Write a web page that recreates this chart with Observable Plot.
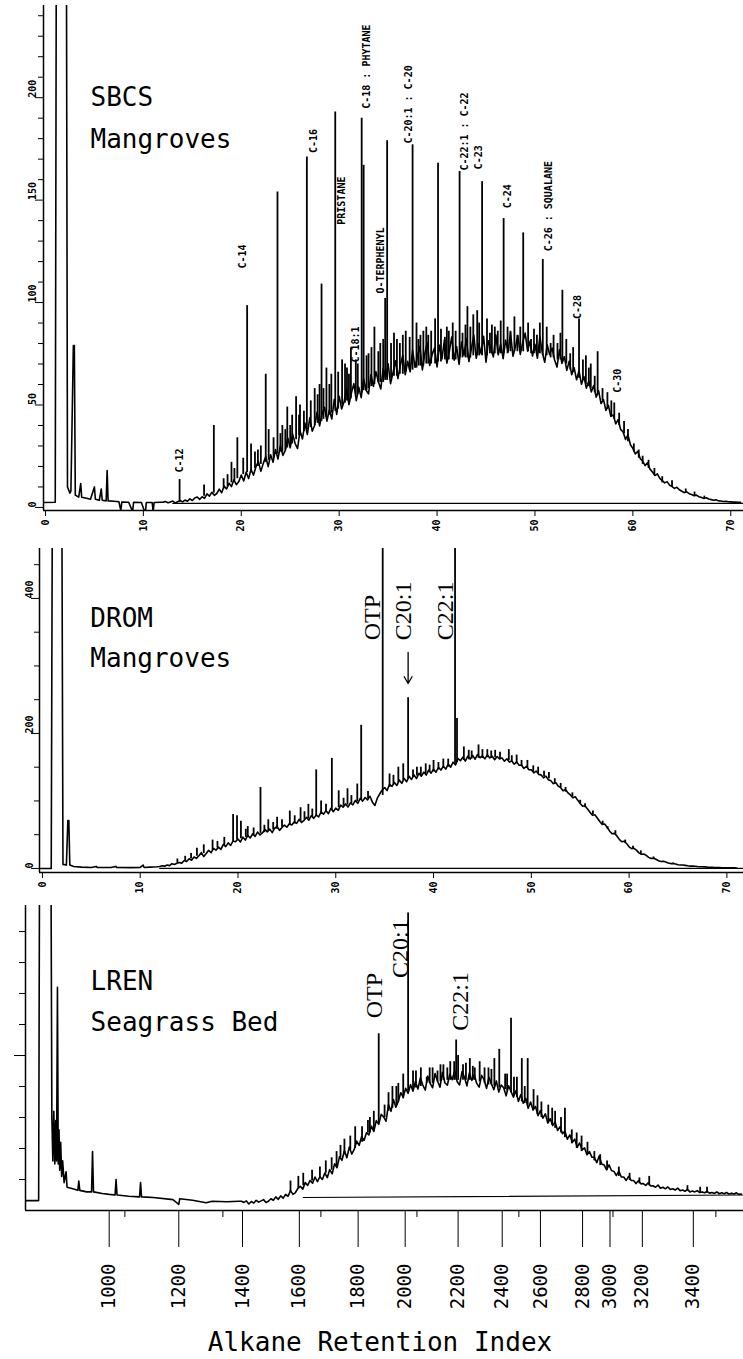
<!DOCTYPE html>
<html><head><meta charset="utf-8">
<script src="https://cdn.jsdelivr.net/npm/d3@7"></script>
<script src="https://cdn.jsdelivr.net/npm/@observablehq/plot@0.6"></script>
<style>
html,body{margin:0;padding:0;background:#fff;}
body{width:743px;}
#chart svg{display:block;}
.title{font-family:"DejaVu Sans Mono",monospace;font-size:26px;width:743px;height:39px;line-height:30px;padding-top:7px;text-align:center;padding-left:17px;box-sizing:border-box;color:#000;}
</style></head>
<body><div id="chart"></div><div class="title">Alkane Retention Index</div>
<script>
// ---------------- Panel 1: SBCS Mangroves (minutes) ----------------
const minuteTicks = [0,10,20,30,40,50,60,70];
const sbcsYMajor = [0,50,100,150,200];
const sbcsYMinor = [10,20,30,40,60,70,80,90,110,120,130,140,160,170,180,190,210,220,230,240];
const sbcsName = ["SBCS","Mangroves"];
const sbcsEarly = [[-0.2,2.4],[1.0,2.5],[1.1,250],[2.15,250],[2.25,10],[2.5,7],[2.6,8],[2.85,79],[2.95,79],[3.05,6],[3.4,5],[3.6,11.6],[3.7,5],[4.2,4.5],[4.6,4],[5.0,10],[5.1,4],[5.5,3.5],[5.7,9],[5.8,3.5],[6.2,3.2],[6.3,18],[6.4,3.2],[7.0,3],[7.5,2.8],[7.7,-1.5],[7.8,2.6],[8.5,2.5],[8.9,-2],[9.0,2.5],[9.8,2.4],[10.2,-3],[10.3,2.4],[10.9,2.4],[11.0,-2],[11.1,2.4],[11.75,2.5]];
const sbcsHumpStart = 12, sbcsHumpStep = 0.25;
const sbcsHump = [
2.5,2.9,2.3,2.6, 3.1,2.2,2.8,3.4, 2.7,3.6,3.0,4.2, 3.4,4.6,5.1,3.9, 5.2,4.4,6.6,5.5,
7.4,5.9,6.8,8.9, 7.2,10.5,9.0,11.8, 10.2,13.5,11.1,12.6, 15.8,12.9,17.2,14.1, 18.5,15.8,19.9,22.4,
17.6,21.5,24.8,19.9, 25.7,22.1,28.3,23.6, 30.2,25.4,27.8,33.9, 29.1,35.8,31.2,28.7, 37.5,33.4,41.2,35.6,
43.8,37.2,40.1,46.5, 39.8,45.5,48.9,42.1, 47.6,43.2,52.8,45.4, 54.3,48.1,51.6,57.9, 50.2,55.8,60.4,52.1,
58.7,53.6,62.9,57.2, 55.4,64.8,59.1,66.3, 61.5,57.8,67.9,63.2, 70.1,60.4,65.8,71.6, 62.9,69.5,74.2,64.8,
71.3,66.2,76.8,68.4, 73.9,78.6,67.1,75.2, 80.4,69.3,74.7,77.9, 68.6,79.2,72.5,81.8, 70.4,76.1,83.2,71.9,
78.5,69.8,80.7,74.3, 82.6,71.2,77.4,84.1, 72.8,79.9,75.1,83.5, 70.9,81.3,77.6,73.4, 84.2,74.5,79.8,72.6,
81.7,75.9,85.3,73.8, 78.4,83.9,74.7,80.6, 85.1,76.3,81.2,73.9, 79.6,72.8,83.4,75.5, 70.9,79.4,74.6,77.8,
72.1,68.5,76.9,70.3, 73.6,66.9,71.4,64.8, 68.2,62.3,66.7,60.1, 63.9,58.2,61.7,56.4, 59.5,53.8,56.9,50.7,
52.6,47.3,49.8,44.5, 45.2,40.8,42.9,38.1, 36.9,33.2,35.4,30.6, 28.8,26.1,27.4,23.9, 22.6,20.4,21.8,18.7,
17.3,15.6,16.4,14.2, 13.1,12.0,12.6,10.9, 10.2,9.3,9.8,8.6, 7.9,7.2,7.6,6.7, 6.3,5.7,6.0,5.2,
4.9,4.4,4.7,4.1, 3.8,3.5,3.7,3.2, 3.1,2.9,3.0,2.8, 2.7,2.6,2.6,2.5, 2.5];
// [time, base, top]
const sbcsPeaks = [[13.7,2.5,13.6],[16.2,5.5,11],[17.2,7,40],[18.2,9,14],[18.6,10,16],[19.0,12,22],[19.3,13,19],[19.6,14,34],[20.2,16,24],[20.6,17,98.5],[21.0,18,31],[21.4,19,27],[21.7,20,28],[22.0,21,30],[22.5,22,65],[22.8,23,38],[23.3,24,34],[23.7,26,154],[24.0,27,36],[24.2,27,40],[24.5,28,38],[24.7,29,49],[25.0,30,40],[25.2,31,45],[25.6,33,54],[25.9,35,45],[26.0,35,50],[26.4,37,47],[26.7,38,171],[27.1,39,52],[27.5,40,58],[27.8,41,55],[28.0,42,60],[28.2,42,109],[28.4,43,58],[28.7,44,68],[29.0,45,60],[29.2,46,65],[29.6,47,193],[29.9,48,66],[30.3,50,72],[30.6,51,70],[30.8,52,68],[31.0,52,65],[31.2,53,78],[31.7,55,72],[31.9,55,70],[32.3,56,190],[32.5,57,167],[32.8,57,74],[33.0,58,75],[33.3,59,78],[33.6,60,88],[34.0,61,76],[34.2,61,80],[34.5,61,82],[34.7,62,102],[34.9,62,179],[35.3,63,80],[35.6,64,85],[35.9,64,82],[36.2,65,80],[36.5,65,84],[36.8,66,86],[37.2,67,83],[37.5,67,177],[37.9,68,90],[38.1,69,82],[38.3,69,84],[38.6,69,86],[38.9,70,88],[39.1,70,84],[39.4,70,86],[39.8,70,92],[40.1,71,168],[40.4,71,87],[40.8,72,83],[41.0,72,88],[41.2,72,86],[41.6,72,90],[41.9,72,86],[42.3,73,164],[42.6,73,85],[42.9,73,89],[43.1,73,98],[43.4,73,88],[43.7,74,94],[44.1,74,96],[44.3,74,90],[44.6,74,159],[45.1,74,92],[45.4,75,85],[45.6,75,89],[45.9,75,88],[46.2,75,86],[46.5,75,91],[46.8,75,141],[47.2,75,88],[47.5,76,86],[47.9,76,93],[48.2,76,84],[48.5,76,88],[48.8,76,134],[49.3,76,90],[49.6,75,82],[49.9,75,87],[50.2,75,84],[50.5,75,90],[50.8,74,121],[51.2,74,88],[51.6,73,80],[51.9,73,84],[52.3,72,80],[52.6,72,85],[52.8,71,106],[53.2,70,82],[53.6,67,75],[53.9,66,78],[54.5,63,92],[54.9,62,72],[55.2,60,74],[55.5,59,68],[55.7,58,70],[56.1,56,64],[56.4,55,76],[56.9,52,58],[57.4,48,56],[57.8,44,52],[58.1,43,51],[58.6,40,46],[59.1,36,42],[59.5,32,38],[60.1,27,31],[60.6,24,28],[61.0,21,25],[61.6,19,23],[62.2,16,19],[63.0,12,15],[64.0,10,13],[65.4,7,9],[66.3,5.5,7.5],[67.3,4.3,5.5]];
const sbcsBaseline = [[13,2],[71.3,2]];
const sbcsLabels = ["C-12","C-14","C-16","PRISTANE","C-18 : PHYTANE","C-18:1","O-TERPHENYL","C-20:1 : C-20","C-22:1 : C-22","C-23","C-24","C-26 : SQUALANE","C-28","C-30"];
const sbcsLabelT = [13.7,20.2,27.4,30.3,32.8,31.7,34.3,37.1,42.8,44.3,47.2,51.4,54.4,58.5];
const sbcsLabelY = [17,116.6,173,138,194.6,70.7,104.4,177.6,164.4,165,146,125,92,56];

// ---------------- Panel 2: DROM Mangroves (minutes) ----------------
const dromYMajor = [0,200,400];
const dromYMinor = [50,100,150,250,300,350,450];
const dromName = ["DROM","Mangroves"];
const dromEarly = [[-0.3,0],[0.9,0],[1.0,480],[2.0,480],[2.1,6],[2.45,5],[2.6,71],[2.7,71],[2.8,5],[3.2,3],[4,2],[5,1.5],[5.5,3],[5.6,1.5],[7,1.5],[7.5,3],[7.6,1.5],[9,1.2],[10,1.5],[10.3,5],[10.4,1.5],[11,2],[11.75,2.5]];
const dromHumpStart = 12, dromHumpStep = 0.25;
const dromHump = [
2.8,3.9,3.4,5.1, 4.2,7.1,6.0,7.6, 8.8,7.9,11.7,10.2, 14.3,12.1,16.9,15.0, 18.8,23.4,17.6,22.0,
26.9,23.3,29.8,27.1, 31.5,28.2,35.7,32.4, 37.9,34.1,40.8,39.5, 43.6,39.2,46.3,42.0, 48.9,45.1,51.2,47.4,
53.9,49.7,52.6,57.8, 54.2,58.3,53.1,59.6, 62.1,56.4,60.8,64.3, 61.0,66.2,64.5,68.9, 66.7,72.8,68.1,71.2,
75.8,71.6,78.4,74.2, 79.1,76.3,83.7,80.5, 85.4,81.2,88.9,84.0, 89.3,86.1,93.8,90.7, 95.6,91.0,97.2,94.3,
100.8,96.5,103.9,99.7, 105.1,101.6,106.9,98.2, 93.4,104.1,110.6,116.2, 119.8,115.4,124.7,121.6, 127.3,122.9,131.1,126.0,
133.2,128.4,136.5,131.9, 138.7,133.1,140.9,136.6, 142.8,138.3,145.6,141.2, 147.1,142.5,149.9,145.8, 151.3,147.2,154.6,150.1,
157.4,153.3,162.8,159.6, 164.9,159.0,166.3,162.1, 167.5,161.8,168.9,164.0, 166.7,162.4,168.3,163.7, 166.1,161.0,165.8,162.2,
163.8,158.9,162.5,157.6, 159.2,154.4,157.8,152.9, 152.8,148.1,151.4,146.3, 146.1,141.7,144.2,139.4, 138.6,134.2,136.7,131.3,
129.8,125.6,127.3,121.9, 119.7,115.1,117.2,111.8, 108.9,104.6,106.1,100.9, 96.3,92.1,93.0,87.9, 83.4,78.8,79.6,74.8,
69.6,65.3,65.9,61.1, 55.6,51.5,52.0,48.2, 43.1,39.6,40.2,36.8, 32.0,29.4,29.9,27.1, 23.1,21.0,21.4,19.3,
16.4,14.9,15.2,13.6, 11.5,10.4,10.7,9.5, 8.0,7.2,7.4,6.6, 5.6,5.0,5.2,4.6, 3.9,3.5,3.6,3.3,
2.9,2.6,2.6,2.4, 1.9,1.7,1.7,1.5, 1.3,1.2,1.1,1.0, 0.9,0.9,0.8,0.8, 0.7];
const dromPeaks = [[13.8,8,14],[14.6,11,18],[15.2,14,22],[15.8,18,30],[16.5,22,35],[17.4,27,42],[17.9,30,40],[18.6,34,46],[19.5,40,80],[19.9,42,78],[20.3,44,70],[20.8,46,58],[21.0,47,62],[21.6,49,60],[22.3,52,120],[22.7,53,64],[23.1,55,72],[23.6,57,68],[24.0,58,76],[24.5,61,72],[25.3,64,85],[25.8,66,78],[26.4,69,90],[26.8,72,84],[27.2,74,95],[27.6,76,88],[28.0,78,146],[28.5,80,100],[29.0,83,95],[29.6,86,163],[30.3,90,115],[30.8,92,104],[31.2,94,118],[31.6,96,108],[32.2,99,125],[32.6,101,212],[33.3,103,114],[34.8,108,480],[35.5,120,140],[35.9,124,138],[36.4,127,150],[36.9,130,155],[37.4,132,253],[37.9,135,146],[38.3,137,150],[38.7,138,150],[39.2,140,155],[39.6,142,153],[40.0,143,160],[40.5,146,157],[41.0,148,162],[41.5,150,162],[42.2,155,480],[42.4,157,222],[43.1,160,180],[43.6,161,175],[43.9,162,174],[44.6,163,183],[45.0,163,176],[45.5,164,176],[45.9,163,174],[46.3,164,175],[46.8,162,172],[47.7,160,176],[48.0,157,167],[48.5,155,168],[49.0,151,160],[49.6,148,160],[50.2,143,152],[50.7,140,150],[51.3,136,144],[51.8,133,142],[52.4,125,133],[53.0,119,126],[53.5,113,120],[54.2,106,112],[55.0,96,101],[55.5,90,96],[56.3,80,85],[57.3,65,70],[57.8,58,62],[58.6,50,56],[59.6,38,42],[60.4,29,33],[61.2,21,26],[62.5,14,17],[64.5,6.5,8]];
const dromBaseline = [[12,0],[71.7,0]];
const dromLabels = ["OTP","C20:1","C22:1"];
const dromLabelT = [33.7,36.9,41.2];
const dromLabelY = [338,338,338];
const dromArrow = [{t:37.4, from:320, to:274}];

// ---------------- Panel 3: LREN Seagrass Bed (retention index axis) ----------------
const riLabels = ["1000","1200","1400","1600","1800","2000","2200","2400","2600","2800","3000","3200","3400"];
const riTime = [6.5,13.6,20.1,25.9,31.9,36.7,42.1,46.6,50.5,54.8,57.6,60.9,66.1];
const lrenMinorX = [8.1,18.1,28.1,37.9,48.3,57.9,68.4];
const lrenYTicks = [1,2,3,4,6,7,8,9];
const lrenYLong = [5];
const lrenName = ["LREN","Seagrass Bed"];
const lrenEarly = [[-2.04,0.32],[-0.7,0.32],[-0.6,12],[0.55,12],[0.65,3.0],[0.75,1.6],[0.85,3.2],[0.95,1.5],[1.05,2.9],[1.13,1.6],[1.22,7.2],[1.3,1.5],[1.38,2.6],[1.45,1.3],[1.55,2.2],[1.65,1.1],[1.75,1.6],[1.9,0.9],[2.1,1.25],[2.2,0.75],[2.6,0.72],[3.3,0.65],[3.4,0.95],[3.5,0.65],[4.2,0.6],[4.7,0.6],[4.8,1.9],[4.9,0.6],[5.8,0.55],[6.5,0.52],[7.1,0.5],[7.2,1.0],[7.3,0.5],[8.5,0.46],[9.6,0.44],[9.7,0.9],[9.8,0.44],[11,0.42],[13,0.35],[13.6,0.2],[13.7,0.38],[15,0.33],[16.4,0.25],[17,0.3],[18.5,0.28],[19.75,0.3]];
const lrenHumpStart = 20, lrenHumpStep = 0.25;
const lrenHump = [
0.30,0.26,0.31,0.21, 0.29,0.24,0.33,0.27, 0.31,0.35,0.26,0.30, 0.38,0.33,0.44,0.36, 0.47,0.40,0.52,0.46,
0.64,0.52,0.58,0.71, 0.78,0.69,0.90,0.81, 0.97,0.88,1.08,0.93, 1.09,1.00,1.21,1.06, 1.32,1.18,1.51,1.38,
1.74,1.62,1.93,1.70, 2.05,1.82,1.97,2.24, 2.10,2.38,2.26,2.51, 2.44,2.72,2.55,2.90, 2.78,3.10,3.02,2.88,
3.42,3.20,3.58,3.33, 3.52,3.80,3.66,3.94, 3.78,4.06,3.85,4.17, 3.92,4.28,4.05,3.88, 4.34,4.10,3.96,4.42,
4.18,3.98,4.46,4.12, 4.04,4.40,4.22,4.52, 4.16,4.05,4.48,4.30, 4.02,4.44,4.20,4.38, 4.10,3.98,4.36,4.22,
3.94,4.30,4.08,3.90, 4.18,3.82,4.05,3.96, 3.70,4.02,3.84,3.66, 3.86,3.52,3.74,3.46, 3.62,3.30,3.50,3.24,
3.36,3.06,3.22,2.98, 3.12,2.82,2.96,2.74, 2.86,2.58,2.70,2.48, 2.56,2.30,2.44,2.20, 2.30,2.04,2.18,1.96,
2.02,1.80,1.90,1.72, 1.72,1.54,1.76,1.50, 1.47,1.31,1.47,1.29, 1.26,1.13,1.27,1.08, 1.08,0.97,1.10,0.97,
0.97,0.87,0.96,0.86, 0.87,0.81,0.89,0.79, 0.80,0.75,0.82,0.72, 0.75,0.70,0.76,0.68, 0.70,0.66,0.72,0.64,
0.66,0.62,0.68,0.60, 0.63,0.60,0.64,0.58, 0.60,0.57,0.62,0.56, 0.58,0.55,0.60,0.54, 0.57,0.54,0.58,0.53,
0.56,0.53,0.57,0.52, 0.53];
const lrenPeaks = [[25.0,0.6,0.95],[25.8,0.7,1.1],[26.3,0.8,1.2],[27.2,0.95,1.3],[28.0,1.05,1.4],[28.6,1.2,1.6],[29.2,1.3,1.7],[29.7,1.4,1.9],[30.1,1.7,2.1],[30.5,1.8,2.3],[31.1,1.95,2.4],[31.6,2.0,2.7],[32.3,2.2,2.7],[32.9,2.5,2.9],[33.1,2.5,3.0],[33.5,2.6,3.2],[34.0,2.8,5.7],[34.6,3.0,3.4],[35.0,3.2,3.8],[35.4,3.3,4.0],[35.8,3.4,4.0],[36.0,3.5,4.1],[36.5,3.6,4.4],[37.0,3.8,9.6],[37.5,3.9,4.5],[37.8,3.95,4.5],[38.3,4.0,4.6],[38.9,4.1,4.3],[39.2,4.1,4.6],[39.5,4.1,4.6],[40.0,4.15,4.5],[40.3,4.15,4.7],[40.6,4.2,4.7],[41.0,4.2,4.6],[41.3,4.2,4.8],[41.7,4.2,4.8],[41.9,4.2,5.5],[42.1,4.2,5.0],[42.6,4.2,4.7],[42.9,4.2,4.75],[43.3,4.2,4.9],[43.6,4.2,4.65],[43.8,4.2,4.6],[44.3,4.15,4.8],[44.8,4.1,4.6],[45.2,4.05,4.6],[45.5,4.05,4.55],[45.8,4.0,4.9],[46.3,3.95,5.2],[46.9,3.9,4.4],[47.1,3.85,4.4],[47.5,3.8,6.2],[47.8,3.7,4.3],[48.1,3.65,4.3],[48.6,3.5,4.9],[48.9,3.45,4.0],[49.2,3.4,4.9],[49.8,3.25,3.9],[50.2,3.1,3.7],[50.6,3.0,3.5],[51.3,2.85,3.4],[51.7,2.75,3.3],[52.0,2.65,3.2],[52.6,2.5,3.0],[53.0,2.35,3.3],[53.7,2.15,2.6],[54.2,2.0,2.5],[54.7,1.9,2.4],[55.3,1.8,2.2],[56.0,1.6,1.9],[56.6,1.45,1.8],[57.3,1.3,1.6],[58.5,1.1,1.4],[59.6,0.97,1.2],[60.6,0.86,1.05],[61.6,0.8,1.1],[65.5,0.62,0.8],[66.8,0.58,0.75],[67.5,0.56,0.75]];
const lrenBaseline = [[26.3,0.42],[71.22,0.5]];
const lrenLabels = ["OTP","C20:1","C22:1"];
const lrenLabelT = [33.6,36.2,42.3];
const lrenLabelY = [6.2,7.5,5.8];

// ---------------- helpers ----------------
const mono = "'DejaVu Sans Mono', monospace";
const serif = "'Liberation Serif', 'Times New Roman', serif";
function trace(early, start, step, values) {
  return early.concat(values.map((v, i) => [start + i * step, v]));
}
const baseStyle = {background: "white", color: "black", fontFamily: mono, overflow: "visible"};
const chart = document.getElementById("chart");
const TW = 1.6, PW = 1.8;

// Panel 1
const p1 = Plot.plot({
  width: 743, height: 540, marginLeft: 43, marginRight: 0, marginTop: 5, marginBottom: 30,
  style: baseStyle,
  x: {domain: [-0.2, 71.3]},
  y: {domain: [-1.5, 245]},
  marks: [
    Plot.axisY({ticks: sbcsYMinor, tickSize: 5, tickFormat: () => "", label: null}),
    Plot.axisY({ticks: sbcsYMajor, tickSize: 8, tickFormat: () => "", label: null}),
    Plot.text(sbcsYMajor, {y: d => d, text: d => String(d), frameAnchor: "left", dx: -11, rotate: -90, fontSize: 10, fontWeight: "bold"}),
    Plot.axisX({ticks: minuteTicks, tickSize: 6, tickPadding: 3, tickRotate: -90, fontSize: 10, fontWeight: "bold", label: null}),
    Plot.ruleX([-0.2], {strokeWidth: 1.5}),
    Plot.ruleY([-1.5], {strokeWidth: 1.5}),
    Plot.line(sbcsBaseline, {x: d => d[0], y: d => d[1], strokeWidth: 1.2}),
    Plot.line(trace(sbcsEarly, sbcsHumpStart, sbcsHumpStep, sbcsHump), {x: d => d[0], y: d => d[1], strokeWidth: TW, clip: true}),
    Plot.ruleX(sbcsPeaks, {x: d => d[0], y1: d => d[1], y2: d => d[2], strokeWidth: PW, clip: true}),
    Plot.text(sbcsLabels, {x: (d, i) => sbcsLabelT[i], y: (d, i) => sbcsLabelY[i], text: d => d, rotate: -90, textAnchor: "start", fontSize: 10, fontWeight: "bold"}),
    Plot.text(sbcsName, {x: 4.6, y: (d, i) => [196, 175.6][i], text: d => d, textAnchor: "start", lineAnchor: "bottom", fontSize: 26})
  ]
});
chart.appendChild(p1);

// Panel 2
const p2 = Plot.plot({
  width: 743, height: 360, marginLeft: 39, marginRight: 0, marginTop: 8, marginBottom: 28,
  style: baseStyle,
  x: {domain: [-0.3, 71.7]},
  y: {domain: [-6, 474]},
  marks: [
    Plot.axisY({ticks: dromYMinor, tickSize: 5, tickFormat: () => "", label: null}),
    Plot.axisY({ticks: dromYMajor, tickSize: 8, tickFormat: () => "", label: null}),
    Plot.text(dromYMajor, {y: d => d, text: d => String(d), frameAnchor: "left", dx: -10, rotate: -90, fontSize: 10, fontWeight: "bold"}),
    Plot.axisX({ticks: minuteTicks, tickSize: 6, tickPadding: 3, tickRotate: -90, fontSize: 10, fontWeight: "bold", label: null}),
    Plot.ruleX([-0.3], {strokeWidth: 1.5}),
    Plot.ruleY([-6], {strokeWidth: 1.5}),
    Plot.line(dromBaseline, {x: d => d[0], y: d => d[1], strokeWidth: 1.2}),
    Plot.line(trace(dromEarly, dromHumpStart, dromHumpStep, dromHump), {x: d => d[0], y: d => d[1], strokeWidth: TW, clip: true}),
    Plot.ruleX(dromPeaks, {x: d => d[0], y1: d => d[1], y2: d => d[2], strokeWidth: PW, clip: true}),
    Plot.arrow(dromArrow, {x1: "t", x2: "t", y1: "from", y2: "to", strokeWidth: 1.3, headLength: 9}),
    Plot.text(dromLabels, {x: (d, i) => dromLabelT[i], y: (d, i) => dromLabelY[i], text: d => d, rotate: -90, textAnchor: "start", fontSize: 24, fontFamily: serif}),
    Plot.text(dromName, {x: 4.9, y: (d, i) => [357, 298][i], text: d => d, textAnchor: "start", lineAnchor: "bottom", fontSize: 26})
  ]
});
chart.appendChild(p2);

// Panel 3
const riMap = new Map(riTime.map((t, i) => [t, riLabels[i]]));
const p3 = Plot.plot({
  width: 743, height: 420, marginLeft: 25, marginRight: 0, marginTop: 5, marginBottom: 110,
  style: baseStyle,
  x: {domain: [-2.04, 71.22]},
  y: {domain: [0, 9.84]},
  marks: [
    Plot.axisY({ticks: lrenYTicks, tickSize: 6, tickFormat: () => "", label: null}),
    Plot.axisY({ticks: lrenYLong, tickSize: 11, tickFormat: () => "", label: null}),
    Plot.axisX({ticks: lrenMinorX, tickSize: 7, tickFormat: () => "", label: null}),
    Plot.axisX({ticks: riTime, tickSize: 37, tickPadding: 16, tickRotate: -90, tickFormat: d => riMap.get(d), fontSize: 19, label: null}),
    Plot.ruleX([-2.04], {strokeWidth: 1.5}),
    Plot.ruleY([0], {strokeWidth: 1.5}),
    Plot.line(lrenBaseline, {x: d => d[0], y: d => d[1], strokeWidth: 1.2}),
    Plot.line(trace(lrenEarly, lrenHumpStart, lrenHumpStep, lrenHump), {x: d => d[0], y: d => d[1], strokeWidth: TW, clip: true}),
    Plot.ruleX(lrenPeaks, {x: d => d[0], y1: d => d[1], y2: d => d[2], strokeWidth: PW, clip: true}),
    Plot.text(lrenLabels, {x: (d, i) => lrenLabelT[i], y: (d, i) => lrenLabelY[i], text: d => d, rotate: -90, textAnchor: "start", fontSize: 24, fontFamily: serif}),
    Plot.text(lrenName, {x: 4.6, y: (d, i) => [7.1, 5.8][i], text: d => d, textAnchor: "start", lineAnchor: "bottom", fontSize: 26})
  ]
});
chart.appendChild(p3);
</script>
</body></html>
